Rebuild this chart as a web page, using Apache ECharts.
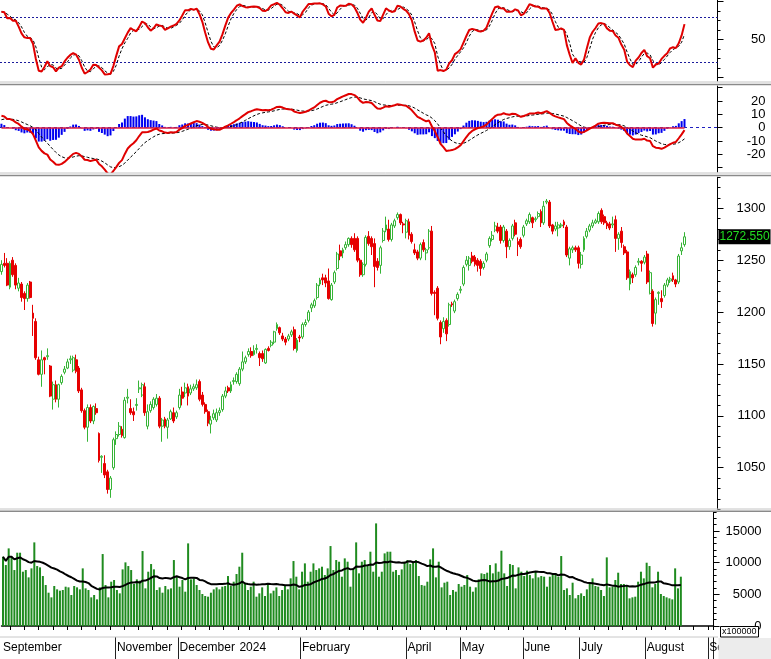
<!DOCTYPE html>
<html>
<head>
<meta charset="utf-8">
<title>VN-Index</title>
<script src="https://cdn.jsdelivr.net/npm/echarts@6.0.0/dist/echarts.min.js"></script>
<style>
html,body{margin:0;padding:0;background:#ffffff;}
#chart{width:771px;height:659px;}
</style>
</head>
<body>
<div id="chart"></div>
<script>
// ---------------- values ----------------
const opens = [
1239,1247,1247,1224,1250,1245,1223,1227,1218,1213,
1229,1199,1191,1154,1140,1156,1157,1148,1116,1130,
1116,1132,1142,1146,1154,1144,1154,1146,1125,1105,
1089,1108,1095,1107,1083,1060,1054,1046,1029,1050,
1078,1082,1087,1079,1117,1107,1104,1110,1126,1120,
1128,1090,1105,1108,1111,1117,1090,1097,1089,1097,
1103,1099,1108,1123,1122,1128,1122,1126,1127,1133,
1120,1111,1104,1092,1098,1096,1103,1106,1119,1127,
1124,1133,1133,1131,1145,1152,1159,1162,1159,1164,
1160,1160,1151,1165,1168,1171,1184,1185,1177,1174,
1174,1178,1183,1163,1176,1176,1188,1192,1204,1206,
1214,1227,1233,1233,1230,1212,1229,1242,1259,1257,
1262,1265,1271,1271,1271,1250,1236,1246,1273,1271,
1266,1249,1245,1269,1279,1280,1270,1283,1291,1294,
1285,1277,1287,1275,1260,1258,1252,1267,1257,1262,
1278,1219,1223,1190,1184,1192,1188,1208,1201,1213,
1221,1227,1246,1245,1254,1253,1250,1249,1243,1250,
1264,1270,1279,1282,1282,1269,1278,1263,1271,1286,
1268,1270,1274,1285,1287,1291,1289,1292,1297,1286,
1306,1306,1284,1280,1281,1283,1287,1282,1252,1260,
1262,1262,1246,1260,1273,1279,1283,1286,1287,1298,
1292,1286,1285,1284,1289,1271,1278,1263,1258,1227,
1236,1236,1248,1249,1248,1256,1218,1220,1199,1218,
1213,1216,1226,1230,1235,1231,1229,1259,1265];
const highs = [
1250,1257,1252,1249,1253,1247,1233,1229,1220,1228,
1230,1207,1194,1157,1163,1157,1165,1149,1133,1134,
1131,1140,1148,1155,1158,1158,1159,1148,1127,1107,
1111,1111,1110,1112,1084,1062,1062,1048,1042,1079,
1085,1094,1090,1118,1126,1116,1108,1117,1134,1132,
1132,1111,1114,1118,1121,1119,1098,1099,1098,1106,
1108,1105,1126,1128,1132,1131,1130,1131,1135,1135,
1123,1113,1106,1100,1106,1107,1108,1121,1128,1129,
1133,1137,1142,1147,1162,1158,1165,1166,1168,1169,
1162,1163,1165,1167,1173,1182,1190,1186,1180,1176,
1179,1183,1186,1175,1178,1190,1193,1202,1209,1213,
1228,1233,1237,1236,1242,1228,1240,1258,1265,1262,
1268,1272,1273,1276,1273,1252,1248,1274,1278,1273,
1271,1252,1264,1281,1292,1289,1286,1290,1296,1295,
1287,1290,1290,1277,1266,1260,1267,1270,1262,1280,
1283,1221,1225,1192,1195,1194,1209,1210,1212,1219,
1225,1245,1254,1254,1258,1255,1252,1251,1249,1258,
1273,1278,1287,1286,1284,1284,1280,1271,1285,1289,
1272,1272,1284,1290,1296,1292,1292,1297,1299,1307,
1309,1308,1285,1287,1287,1286,1289,1284,1263,1264,
1264,1264,1258,1273,1281,1285,1289,1290,1297,1300,
1294,1288,1287,1292,1293,1277,1282,1265,1260,1241,
1238,1245,1252,1250,1255,1259,1240,1222,1214,1220,
1221,1228,1233,1234,1238,1232,1256,1267,1277];
const lows = [
1236,1243,1225,1222,1234,1222,1220,1210,1202,1210,
1213,1177,1154,1139,1128,1140,1154,1118,1106,1113,
1108,1130,1140,1145,1150,1142,1141,1122,1103,1087,
1075,1093,1092,1101,1055,1045,1040,1025,1021,1048,
1072,1080,1079,1078,1112,1101,1095,1105,1122,1118,
1100,1087,1103,1106,1109,1088,1075,1088,1078,1096,
1093,1097,1106,1110,1118,1110,1120,1124,1125,1114,
1109,1102,1090,1083,1096,1094,1100,1104,1117,1122,
1122,1130,1131,1129,1143,1150,1157,1156,1158,1160,
1148,1152,1150,1162,1166,1169,1182,1178,1172,1168,
1172,1176,1163,1161,1171,1174,1186,1190,1200,1204,
1212,1225,1226,1224,1212,1211,1227,1240,1250,1252,
1260,1263,1262,1258,1248,1234,1234,1244,1264,1255,
1224,1240,1237,1267,1277,1268,1268,1281,1289,1284,
1276,1271,1270,1266,1255,1250,1250,1258,1250,1260,
1216,1197,1192,1169,1180,1172,1186,1205,1199,1211,
1218,1225,1244,1240,1247,1244,1239,1235,1241,1248,
1262,1268,1277,1276,1266,1267,1252,1260,1269,1273,
1254,1261,1272,1283,1285,1281,1287,1290,1282,1284,
1304,1281,1275,1278,1273,1281,1281,1253,1245,1257,
1258,1242,1242,1258,1271,1277,1281,1285,1285,1285,
1284,1280,1279,1281,1258,1260,1262,1255,1231,1221,
1228,1234,1245,1239,1246,1227,1217,1186,1188,1207,
1204,1214,1224,1228,1229,1224,1227,1255,1263];
const closes = [
1246,1245,1226,1247,1236,1226,1228,1214,1213,1226,
1214,1194,1156,1140,1154,1154,1158,1119,1130,1116,
1130,1138,1145,1152,1155,1156,1143,1124,1105,1089,
1108,1095,1109,1103,1057,1061,1043,1029,1040,1077,
1082,1090,1081,1115,1118,1103,1101,1111,1127,1130,
1103,1104,1111,1116,1117,1090,1096,1090,1096,1104,
1095,1103,1120,1117,1127,1119,1126,1128,1130,1116,
1111,1104,1093,1096,1102,1103,1105,1119,1124,1124,
1130,1134,1140,1145,1152,1156,1162,1158,1163,1165,
1156,1155,1164,1163,1171,1181,1188,1180,1174,1171,
1177,1181,1165,1173,1175,1188,1190,1200,1207,1211,
1226,1231,1231,1228,1213,1226,1238,1256,1254,1260,
1265,1271,1265,1260,1250,1236,1246,1272,1266,1263,
1244,1243,1262,1278,1284,1270,1284,1288,1294,1286,
1284,1288,1274,1268,1257,1252,1265,1260,1260,1278,
1218,1218,1194,1176,1191,1179,1207,1207,1210,1217,
1222,1243,1250,1252,1249,1246,1245,1242,1247,1256,
1271,1274,1283,1278,1269,1282,1263,1269,1283,1275,
1265,1263,1282,1288,1294,1286,1290,1295,1286,1302,
1307,1283,1278,1283,1284,1284,1284,1255,1261,1262,
1260,1247,1255,1271,1278,1283,1286,1288,1295,1287,
1286,1283,1281,1285,1271,1275,1267,1257,1233,1239,
1233,1243,1249,1247,1253,1229,1238,1189,1212,1219,
1210,1226,1231,1232,1231,1227,1254,1262,1272.55];
// volume, in units of 100000 shares
const volumes = [
10941,9626,12256,10941,8837,11572,11572,
8574,8837,7680,9100,13203,9468,
9258,7890,6470,5260,4524,6312,5786,
5576,5681,6207,6102,4892,6312,6102,
5786,9100,5944,5681,4524,4892,4208,
6102,11362,6470,4524,6996,7259,5681,
5155,8942,10047,9468,8837,6628,7364,
7154,11835,5944,8574,9784,8942,5681,
6102,5260,6312,5786,5944,10415,7890,
6207,7259,5418,13045,7364,7522,6470,
5681,5050,4734,4629,5260,5786,6102,
5786,6207,6312,7890,6312,6996,8206,9363,11572,6838,5681,6207,6996,4629,
5155,6102,4734,6470,5155,5576,
6102,4734,5681,6470,5786,7522,10257,
7785,5786,8574,9889,6996,8574,9889,
8837,9100,9363,8048,9100,12624,8837,
10415,10152,7785,10678,10152,6207,9100,
13203,8311,10152,10415,9626,11730,8574,
16201,
7785,8574,11467,11730,11730,8574,8837,8048,8942,10152,
10415,9784,10152,10415,7890,6470,6365,6996,10520,12256,
7680,10152,6102,6838,6996,4892,5681,5418,6628,6207,
6470,8048,6207,5418,6102,7364,8311,8206,8416,9626,
8311,9889,8574,11888,8311,6312,9784,9626,5944,9258,
8574,7890,8732,8048,7522,8574,7680,7890,7785,6207,
7785,8048,8311,7785,11046,5681,5944,4892,6838,4366,
4892,5155,4734,5786,6733,7522,6312,6207,5681,4734,
10836,6102,6207,7259,8416,6628,6628,6417,4366,4524,
4629,6996,8574,7522,9994,9468,6102,6628,8574,5050,
4734,4524,4366,4208,9100,5944,7785];

// tick labels
const stochLabels = [50];
const macdLabels = [-20, -10, 0, 10, 20];
const priceLabels = [1050, 1100, 1150, 1200, 1250, 1300];
const volumeLabels = [0, 5000, 10000, 15000];
const monthNames = ['January','February','March','April','May','June','July','August','September','October','November','December'];
const shownMonths = ['2023-09','2023-11','2023-12','2024-01','2024-02','2024-04','2024-05','2024-06','2024-07','2024-08','2024-09'];
const separatorMonths = ['2023-11','2023-12','2024-02','2024-04','2024-05','2024-06','2024-07','2024-08','2024-09'];
const holidays = ['2023-09-01','2023-09-04','2024-01-01','2024-02-08','2024-02-09','2024-02-12','2024-02-13','2024-02-14','2024-04-18','2024-04-29','2024-04-30','2024-05-01','2024-09-02','2024-09-03'];
const startDate = '2023-09-06';
const totalSlots = 250;

// indicator settings and starting states
const stochPeriod = 28, kSmooth = 3, dSmooth = 3;
const stochPriorHigh = 1257, stochPriorLow = 1175;
const macdFast = 12, macdSlow = 26, macdSig = 9;
const macdStart = 9, signalStart = 6;
const volMaPeriod = 20;

// ---------------- calendar (categories) ----------------
const holSet = new Set(holidays);
const dates = [];
{
  const d = new Date(startDate + 'T00:00:00Z');
  while (dates.length < totalSlots) {
    const wd = d.getUTCDay();
    const s = d.toISOString().slice(0, 10);
    if (wd !== 0 && wd !== 6 && !holSet.has(s)) dates.push(s);
    d.setUTCDate(d.getUTCDate() + 1);
  }
}
const monthStart = dates.map((s, i) => i === 0 || s.slice(0, 7) !== dates[i - 1].slice(0, 7));
const weekStart = dates.map((s, i) => {
  if (i === 0) return false;
  const a = new Date(s + 'T00:00:00Z'), b = new Date(dates[i - 1] + 'T00:00:00Z');
  return a.getUTCDay() < b.getUTCDay() || (a - b) > 4 * 86400000;
});
const labelAt = dates.map((s, i) => monthStart[i] && shownMonths.includes(s.slice(0, 7)));
const sepAt = dates.map((s, i) => monthStart[i] && separatorMonths.includes(s.slice(0, 7)));
const monthLabel = s => { const m = +s.slice(5, 7); return m === 1 ? s.slice(0, 4) : monthNames[m - 1]; };

// ---------------- indicators derived from the price data ----------------
const N = closes.length;
function sma(a, n) {
  return a.map((v, i) => { const s = Math.max(0, i - n + 1); let t = 0; for (let j = s; j <= i; j++) t += a[j]; return t / (i - s + 1); });
}
const rawK = closes.map((c, i) => {
  const s = i - stochPeriod + 1;
  let hh = s < 0 ? stochPriorHigh : -Infinity, ll = s < 0 ? stochPriorLow : Infinity;
  for (let j = Math.max(0, s); j <= i; j++) { if (highs[j] > hh) hh = highs[j]; if (lows[j] < ll) ll = lows[j]; }
  return (c - ll) / (hh - ll) * 100;
});
const kLine = sma(rawK, kSmooth);
const dLine = sma(kLine, dSmooth);

const macdLine = [], signalLine = [], histLine = [];
{
  let eSlow = closes[0] - 12, eFast = eSlow + macdStart, sig = signalStart;
  closes.forEach((c, i) => {
    if (i > 0) {
      eFast += (2 / (macdFast + 1)) * (c - eFast);
      eSlow += (2 / (macdSlow + 1)) * (c - eSlow);
    }
    const m = eFast - eSlow;
    if (i > 0) sig += (2 / (macdSig + 1)) * (m - sig);
    macdLine.push(+m.toFixed(3)); signalLine.push(+sig.toFixed(3)); histLine.push(+(m - sig).toFixed(3));
  });
}
const volMa = sma(volumes, volMaPeriod).map(v => Math.round(v));
const candleData = closes.map((c, i) => [opens[i], c, lows[i], highs[i]]);
const lastClose = closes[N - 1];

// ---------------- chart ----------------
const FONT = 'Arial, "Liberation Sans", sans-serif';
const GW = 717.5;
function steps(a, b, st, skip) { const r = []; for (let v = a; v <= b + 1e-9; v += st) { if (!skip || !skip(v)) r.push(+v.toFixed(2)); } return r; }
function yAx(grid, min, max, ticks, tickLen, labels, line) {
  return {
    type: 'value', gridIndex: grid, position: 'right', min: min, max: max,
    axisLine: { show: line, lineStyle: { color: '#000', width: 1 } },
    axisTick: { show: true, length: tickLen, customValues: ticks, lineStyle: { color: '#000', width: 1 } },
    axisLabel: labels ? { show: true, customValues: labels, margin: 48, align: 'right', color: '#000', fontSize: 13, fontFamily: FONT,
      formatter: (v) => String(v) } : { show: false },
    splitLine: { show: false }
  };
}
const hiddenX = g => ({ type: 'category', gridIndex: g, data: dates, boundaryGap: true, show: false });

const option = {
  animation: false,
  backgroundColor: '#ffffff',
  grid: [
    { left: 0, width: GW, top: 0, height: 81 },
    { left: 0, width: GW, top: 86, height: 86 },
    { left: 0, width: GW, top: 177.2, height: 332 },
    { left: 0, width: GW, top: 512, height: 114 }
  ],
  xAxis: [
    hiddenX(0), hiddenX(1), hiddenX(2),
    { type: 'category', gridIndex: 3, data: dates, boundaryGap: true, position: 'bottom', offset: 0,
      axisLine: { show: true, lineStyle: { color: '#000', width: 1.5 } }, axisTick: { show: false }, axisLabel: { show: false } },
    { type: 'category', gridIndex: 3, data: dates, boundaryGap: true, position: 'bottom', offset: 11,
      axisLine: { show: false },
      axisTick: { show: true, length: 4, interval: (i) => weekStart[i], lineStyle: { color: '#000' } },
      axisLabel: { show: true, interval: (i) => labelAt[i], formatter: (v) => monthLabel(v), align: 'left', margin: 5, fontSize: 12, color: '#000', fontFamily: FONT } },
    { type: 'category', gridIndex: 3, data: dates, boundaryGap: true, position: 'bottom', offset: 11,
      axisLine: { show: false },
      axisTick: { show: true, length: 22, interval: (i) => sepAt[i], lineStyle: { color: '#222' } },
      axisLabel: { show: false } }
  ],
  yAxis: [
    yAx(0, -4.9, 102.2, [12.5, 25, 37.5, 62.5, 75, 87.5], 3, null, true),
    yAx(0, -4.9, 102.2, [0, 50, 100], 6, stochLabels, false),
    yAx(1, -33.2, 31.3, [-30, -20, -10, 0, 10, 20, 30], 5, macdLabels, true),
    yAx(2, 1010, 1330, steps(1010, 1330, 10, v => v % 50 === 0), 3, null, true),
    yAx(2, 1010, 1330, priceLabels, 6, priceLabels, false),
    yAx(3, 0, 18000, steps(1000, 18000, 1000, v => v % 5000 === 0), 3, null, true),
    yAx(3, 0, 18000, volumeLabels, 6, volumeLabels, false)
  ],
  series: [
    { name: '%K', type: 'line', xAxisIndex: 0, yAxisIndex: 0, data: kLine.map(v => +v.toFixed(2)), symbol: 'none', z: 5,
      lineStyle: { color: '#e00000', width: 2 },
      markLine: { silent: true, symbol: 'none', animation: false, label: { show: false },
        lineStyle: { color: '#1c1c9c', type: [2, 2], width: 1 }, data: [{ yAxis: 80 }, { yAxis: 20 }] } },
    { name: '%D', type: 'line', xAxisIndex: 0, yAxisIndex: 0, data: dLine.map(v => +v.toFixed(2)), symbol: 'none', z: 4,
      lineStyle: { color: '#000', width: 1, type: [3, 2] } },
    { name: 'Hist', type: 'bar', xAxisIndex: 1, yAxisIndex: 2, data: histLine, barWidth: 2, itemStyle: { color: '#0000f0' }, z: 2,
      markLine: { silent: true, symbol: 'none', animation: false, label: { show: false },
        lineStyle: { color: '#2020c0', type: [3, 3], width: 1 }, data: [{ yAxis: 0 }] } },
    { name: 'Signal', type: 'line', xAxisIndex: 1, yAxisIndex: 2, data: signalLine, symbol: 'none', z: 4,
      lineStyle: { color: '#000', width: 1, type: [3, 2] } },
    { name: 'MACD', type: 'line', xAxisIndex: 1, yAxisIndex: 2, data: macdLine, symbol: 'none', z: 5,
      lineStyle: { color: '#e00000', width: 2 },
      markLine: { silent: true, symbol: 'none', animation: false, label: { show: false },
        lineStyle: { color: '#e02040', type: 'solid', width: 1.5 },
        data: [[{ coord: [dates[0], 0] }, { coord: [dates[N - 1], 0] }]] } },
    { name: 'Price', type: 'candlestick', xAxisIndex: 2, yAxisIndex: 3, data: candleData, barWidth: 2.4,
      itemStyle: { color: '#ffffff', color0: '#e60000', borderColor: '#36b436', borderColor0: '#e60000', borderWidth: 1 },
      markLine: { silent: true, symbol: 'none', animation: false,
        lineStyle: { color: 'rgba(0,0,0,0)', width: 0 },
        label: { show: true, position: 'end', distance: 1, formatter: () => lastClose.toFixed(3),
          backgroundColor: '#000', color: '#22dd22', fontSize: 12, fontFamily: FONT, padding: [2, 1, 1, 1] },
        data: [{ yAxis: lastClose }] } },
    { name: 'Volume', type: 'bar', xAxisIndex: 3, yAxisIndex: 5, data: volumes, barWidth: 2, itemStyle: { color: '#1f8b1f' } },
    { name: 'Vol MA', type: 'line', xAxisIndex: 3, yAxisIndex: 5, data: volMa, symbol: 'none', z: 5,
      lineStyle: { color: '#000', width: 2 } }
  ],
  graphic: [
    { type: 'line', shape: { x1: 0, y1: 82, x2: 771, y2: 82 }, style: { stroke: '#c4c4c4', lineWidth: 1 }, z: 50 },
    { type: 'line', shape: { x1: 0, y1: 84.5, x2: 771, y2: 84.5 }, style: { stroke: '#8a8a8a', lineWidth: 1.5 }, z: 50 },
    { type: 'line', shape: { x1: 0, y1: 173, x2: 771, y2: 173 }, style: { stroke: '#c4c4c4', lineWidth: 1 }, z: 50 },
    { type: 'line', shape: { x1: 0, y1: 175.5, x2: 771, y2: 175.5 }, style: { stroke: '#8a8a8a', lineWidth: 1.5 }, z: 50 },
    { type: 'line', shape: { x1: 0, y1: 509, x2: 771, y2: 509 }, style: { stroke: '#c4c4c4', lineWidth: 1 }, z: 50 },
    { type: 'line', shape: { x1: 0, y1: 511.3, x2: 771, y2: 511.3 }, style: { stroke: '#8a8a8a', lineWidth: 1.5 }, z: 50 },
    { type: 'line', shape: { x1: 0, y1: 637, x2: 718, y2: 637 }, style: { stroke: '#c8c8c8', lineWidth: 1 }, z: 50 },
    { type: 'rect', shape: { x: 720.5, y: 626.5, width: 38, height: 10.5 }, style: { fill: '#ffffff', stroke: '#000', lineWidth: 1 }, z: 60 },
    { type: 'text', x: 722, y: 632, style: { text: 'x100000', font: '9px ' + FONT, fill: '#000', textVerticalAlign: 'middle' }, z: 61 },
    { type: 'rect', shape: { x: 718.5, y: 638, width: 53, height: 21 }, style: { fill: '#ececec' }, z: 100 }
  ]
};
const chart = echarts.init(document.getElementById('chart'), null, { renderer: 'canvas' });
chart.setOption(option);
</script>
</body>
</html>
